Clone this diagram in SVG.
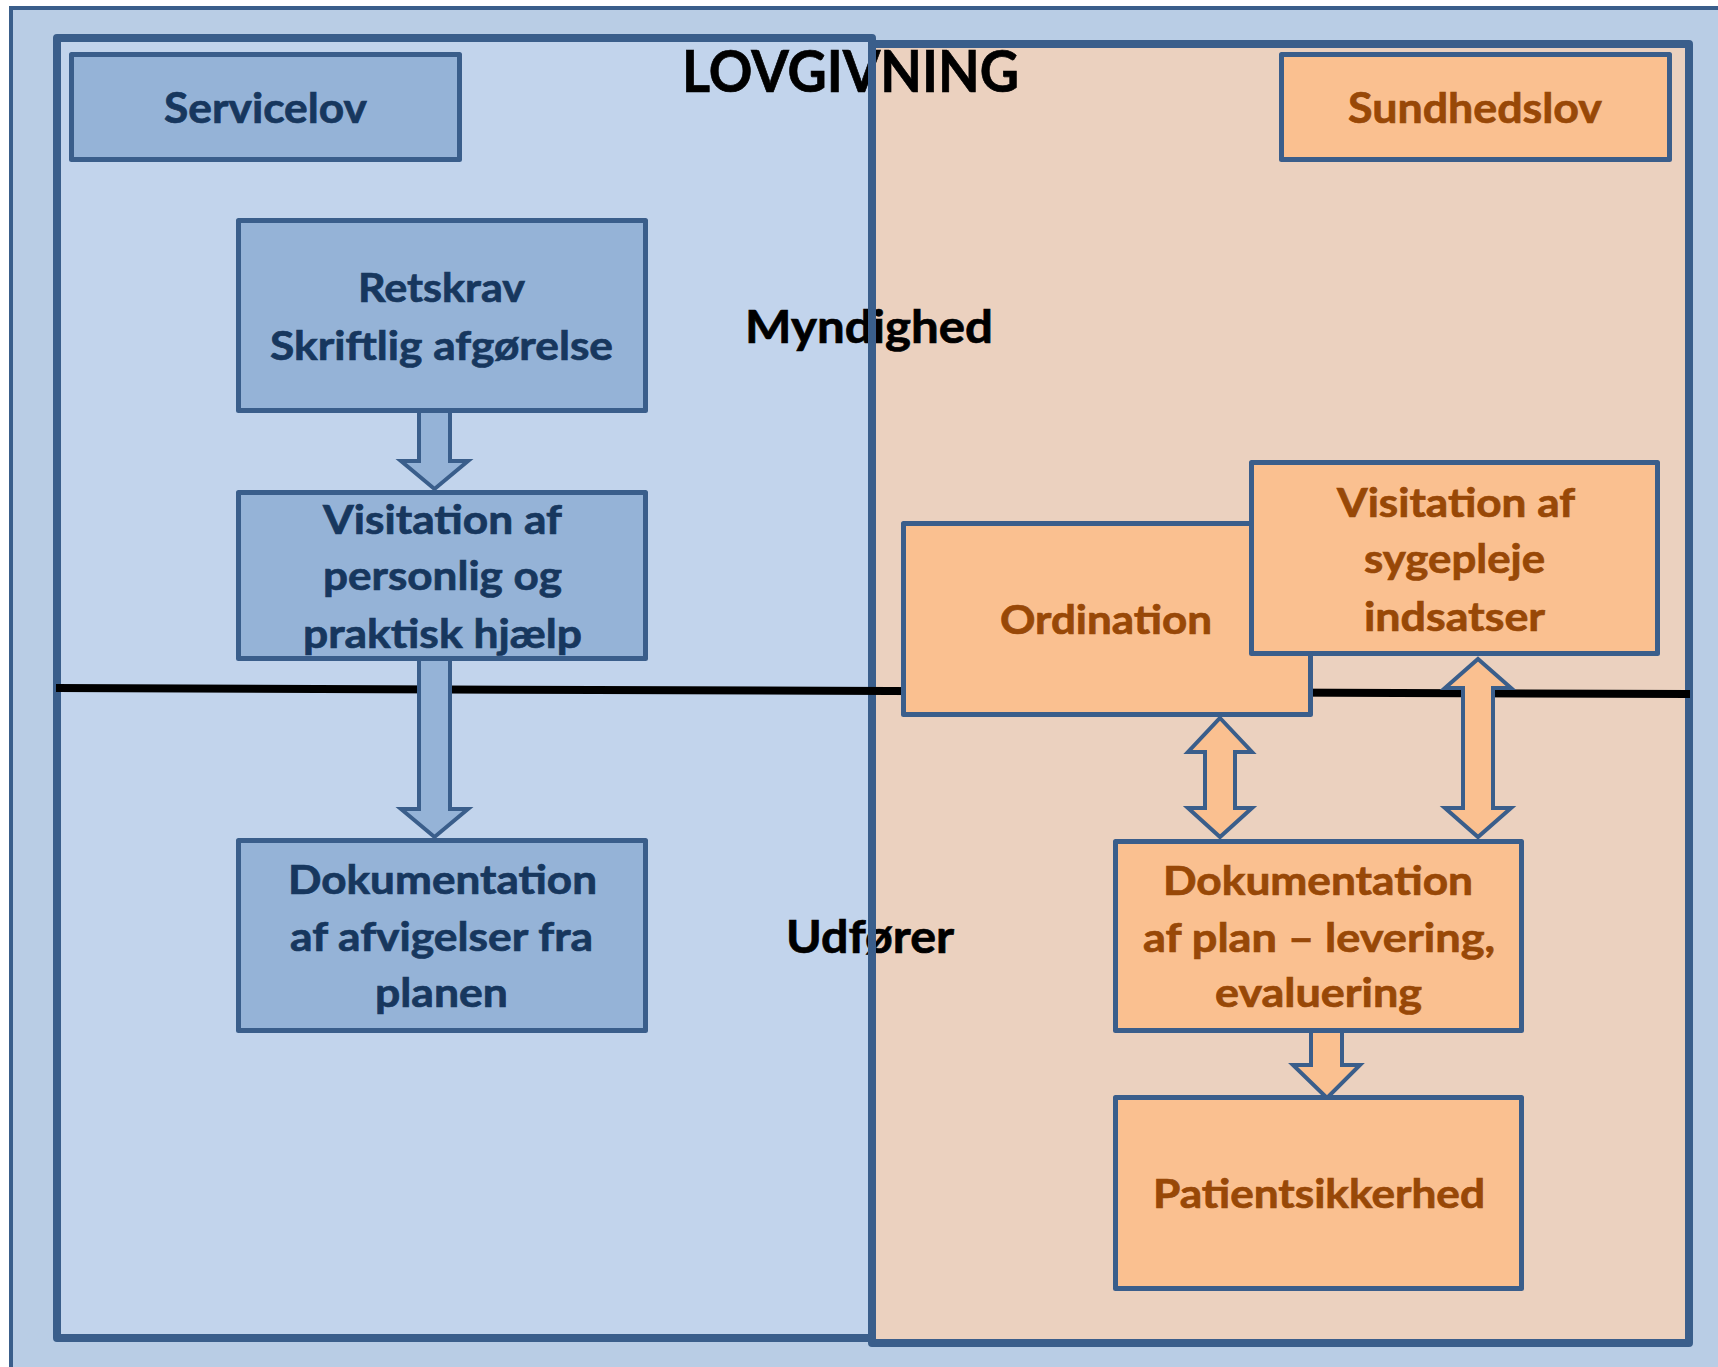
<svg xmlns="http://www.w3.org/2000/svg" width="1718" height="1367" viewBox="0 0 1718 1367">
<style>
  .region { stroke: #3a5e8b; stroke-width: 8; stroke-linejoin: round; }
  .box { stroke: #3a5e8b; stroke-width: 5; stroke-linejoin: round; }
  .bbox { fill: #95b3d7; }
  .obox { fill: #fac090; }
  .arrow { stroke: #3a5e8b; stroke-width: 4; stroke-linejoin: miter; }
  .barrow { fill: #95b3d7; }
  .oarrow { fill: #fac090; }
  text { font-family: Lato, "Open Sans", "Liberation Sans", sans-serif; font-weight: bold; stroke-width: 0.7; }
  .bt { fill: #17375e; stroke: #17375e; font-size: 40px; text-anchor: middle; }
  .ot { fill: #984807; stroke: #984807; font-size: 40px; text-anchor: middle; }
  .lbl { fill: #000000; stroke: #000000; font-size: 46px; }
</style>
<rect x="0" y="0" width="1718" height="1367" fill="#ffffff"/>
<g id="background">
  <rect x="11" y="8" width="1720" height="1370" fill="#b9cde5" stroke="#3a5e8b" stroke-width="4"/>
  <rect id="region-peach" class="region" x="872" y="44" width="817" height="1299" fill="#ebd1bf"/>
  <rect id="region-blue" class="region" x="57" y="38" width="815" height="1300" fill="#c2d4ec"/>
</g>
<g id="title">
  <text class="lbl" x="682" y="92" style="font-size:58px" textLength="337" lengthAdjust="spacingAndGlyphs">LOVGIVNING</text>
  <text class="lbl" x="745" y="343" textLength="248" lengthAdjust="spacingAndGlyphs">Myndighed</text>
  <text class="lbl" x="786" y="953" textLength="168" lengthAdjust="spacingAndGlyphs">Udfører</text>
</g>
<g id="divider">
  <line x1="872" y1="38" x2="872" y2="1338" stroke="#3a5e8b" stroke-width="8"/>
  <line x1="56" y1="688" x2="1690" y2="694" stroke="#000000" stroke-width="8"/>
</g>
<g id="connectors">
  <path class="arrow barrow" d="M419,411 L450,411 L450,461 L468,461 L434.5,489 L401,461 L419,461 Z"/>
  <path class="arrow barrow" d="M419,659 L450,659 L450,809 L468,809 L434.5,837 L401,809 L419,809 Z"/>
  <path class="arrow oarrow" d="M1220,718 L1252,752 L1235,752 L1235,808 L1252,808 L1220,837 L1188,808 L1205,808 L1205,752 L1188,752 Z"/>
  <path class="arrow oarrow" d="M1478,659 L1511,688 L1493,688 L1493,808 L1511,808 L1478,837 L1445,808 L1463,808 L1463,688 L1445,688 Z"/>
  <path class="arrow oarrow" d="M1311,1031 L1342,1031 L1342,1065 L1360,1065 L1327,1098 L1293,1065 L1311,1065 Z"/>
</g>
<g id="servicelov">
  <rect class="box bbox" x="71.5" y="54.5" width="388" height="105"/>
  <text class="bt" x="265.5" y="123" style="font-size:42px" textLength="203" lengthAdjust="spacingAndGlyphs">Servicelov</text>
</g>
<g id="sundhedslov">
  <rect class="box obox" x="1281.5" y="54.5" width="388" height="105"/>
  <text class="ot" x="1475" y="123" style="font-size:42px" textLength="254" lengthAdjust="spacingAndGlyphs">Sundhedslov</text>
</g>
<g id="retskrav">
  <rect class="box bbox" x="238.5" y="220.5" width="407" height="190"/>
  <text class="bt" x="441.5" y="302" textLength="167" lengthAdjust="spacingAndGlyphs">Retskrav</text>
  <text class="bt" x="441.5" y="360" textLength="343" lengthAdjust="spacingAndGlyphs">Skriftlig afgørelse</text>
</g>
<g id="visitation-personlig">
  <rect class="box bbox" x="238.5" y="492.5" width="407" height="166"/>
  <text class="bt" x="442.5" y="534" textLength="239" lengthAdjust="spacingAndGlyphs">Visitation af</text>
  <text class="bt" x="442.5" y="590" textLength="239" lengthAdjust="spacingAndGlyphs">personlig og</text>
  <text class="bt" x="442.5" y="648" textLength="279" lengthAdjust="spacingAndGlyphs">praktisk hjælp</text>
</g>
<g id="dokumentation-afvigelser">
  <rect class="box bbox" x="238.5" y="840.5" width="407" height="190"/>
  <text class="bt" x="442.5" y="894" textLength="309" lengthAdjust="spacingAndGlyphs">Dokumentation</text>
  <text class="bt" x="441.5" y="951" textLength="303" lengthAdjust="spacingAndGlyphs">af afvigelser fra</text>
  <text class="bt" x="441.5" y="1007" textLength="133" lengthAdjust="spacingAndGlyphs">planen</text>
</g>
<g id="ordination">
  <rect class="box obox" x="903.5" y="523.5" width="407" height="191"/>
  <text class="ot" x="1106" y="634" textLength="212" lengthAdjust="spacingAndGlyphs">Ordination</text>
</g>
<g id="visitation-sygepleje">
  <rect class="box obox" x="1251.5" y="462.5" width="406" height="191"/>
  <text class="ot" x="1456" y="517" textLength="238" lengthAdjust="spacingAndGlyphs">Visitation af</text>
  <text class="ot" x="1454.5" y="573" textLength="181" lengthAdjust="spacingAndGlyphs">sygepleje</text>
  <text class="ot" x="1454.5" y="631" textLength="181" lengthAdjust="spacingAndGlyphs">indsatser</text>
</g>
<g id="dokumentation-plan">
  <rect class="box obox" x="1115.5" y="841.5" width="406" height="189"/>
  <text class="ot" x="1318" y="895" textLength="310" lengthAdjust="spacingAndGlyphs">Dokumentation</text>
  <text class="ot" x="1319" y="952" textLength="352" lengthAdjust="spacingAndGlyphs">af plan – levering,</text>
  <text class="ot" x="1318.5" y="1007" textLength="207" lengthAdjust="spacingAndGlyphs">evaluering</text>
</g>
<g id="patientsikkerhed">
  <rect class="box obox" x="1115.5" y="1097.5" width="406" height="191"/>
  <text class="ot" x="1319" y="1208" textLength="332" lengthAdjust="spacingAndGlyphs">Patientsikkerhed</text>
</g>
</svg>
